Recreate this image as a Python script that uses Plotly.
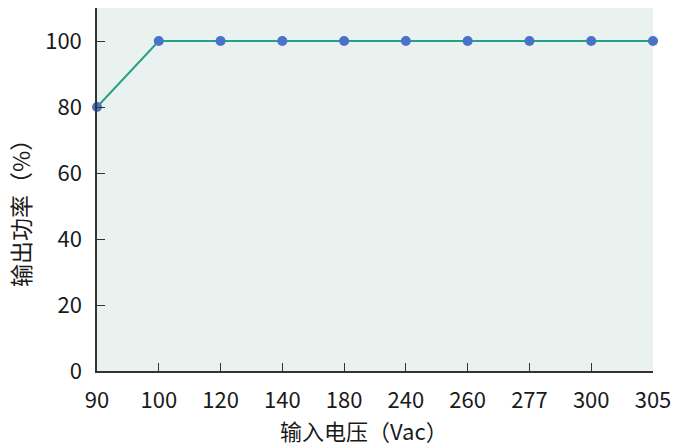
import plotly.graph_objects as go

voltage_labels = ["90", "100", "120", "140", "180", "240", "260", "277", "300", "305"]
output_power = [80, 100, 100, 100, 100, 100, 100, 100, 100, 100]
x_title = "输入电压（Vac）"
y_title = "输出功率（%）"

fig = go.Figure()
fig.add_trace(go.Scatter(
    x=voltage_labels, y=output_power, mode="lines+markers",
    line=dict(color="#26A088", width=2),
    marker=dict(color="#4A72C8", size=10),
    cliponaxis=False,
))

font_family = "Noto Sans CJK SC, Noto Sans, sans-serif"
fig.update_layout(
    width=673, height=448,
    margin=dict(l=97, r=20, t=8, b=77),
    paper_bgcolor="white",
    plot_bgcolor="#EAF2EF",
    showlegend=False,
    font=dict(family=font_family, color="#1a1a1a", size=19),
)
fig.update_xaxes(
    type="category", range=[0, 9], automargin=False,
    showline=True, linecolor="#333333", linewidth=1.5,
    ticks="inside", ticklen=8, tickcolor="#333333",
    showgrid=False, zeroline=False,
    tickfont=dict(size=22), ticklabelstandoff=9,
)
fig.update_yaxes(
    range=[0, 110], tickvals=[0, 20, 40, 60, 80, 100], automargin=False,
    showline=True, linecolor="#333333", linewidth=1.5,
    ticks="inside", ticklen=8, tickcolor="#333333",
    showgrid=False, zeroline=False,
    tickfont=dict(size=22), ticklabelstandoff=9,
)
fig.add_annotation(text=x_title, xref="paper", yref="paper", x=0.48, y=0,
                   yshift=-59, showarrow=False, font=dict(size=22),
                   xanchor="center", yanchor="middle")
fig.add_annotation(text=y_title, xref="paper", yref="paper", x=0, y=0.449,
                   xshift=-77, showarrow=False, font=dict(size=23), textangle=-90,
                   xanchor="center", yanchor="middle")

fig.write_html("out.html", config={"displayModeBar": False},
               post_script="document.body.style.margin='0';document.body.style.overflow='hidden';")
